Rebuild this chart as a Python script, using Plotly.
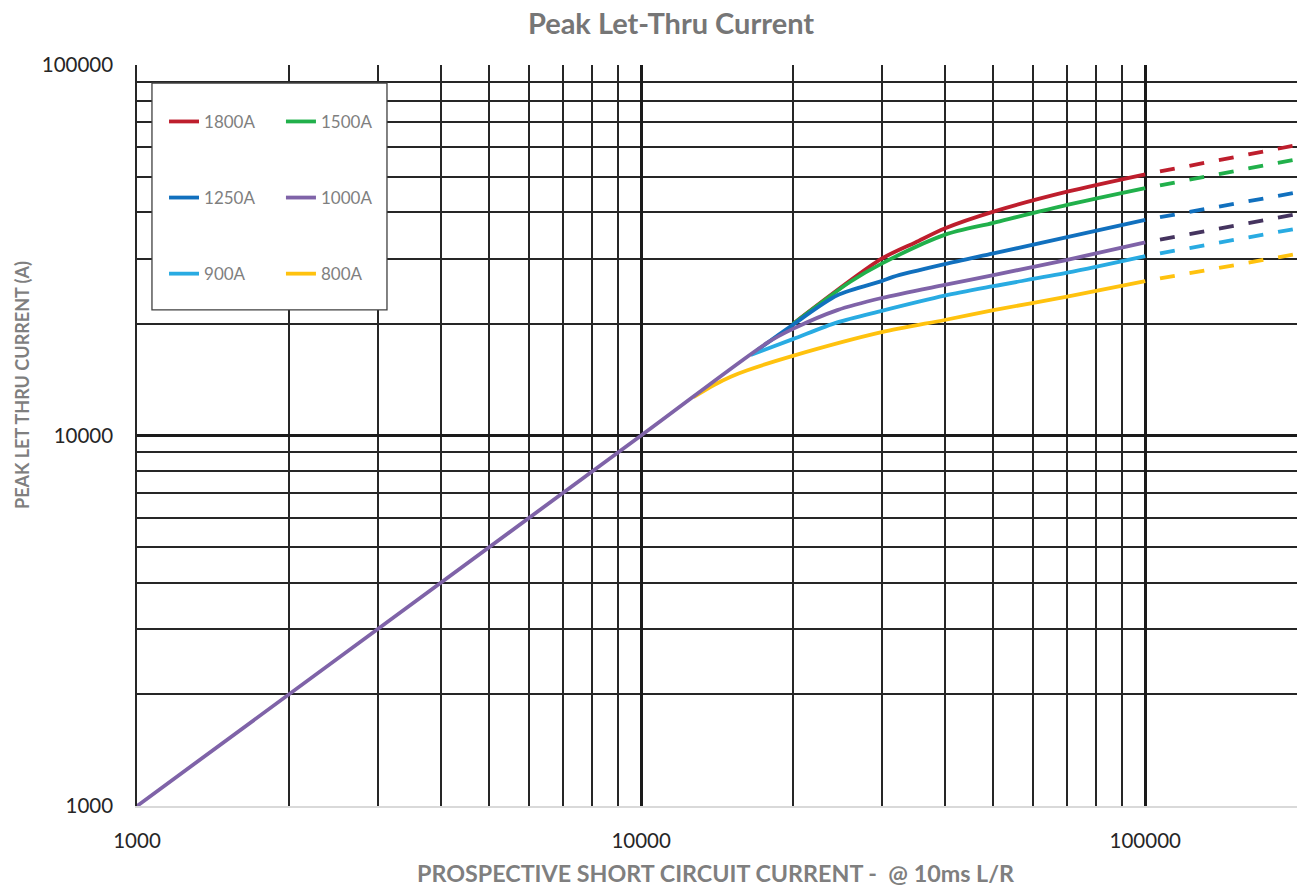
import math
import plotly.graph_objects as go

# Prospective short-circuit current (A) and peak let-through current (A) per fuse rating
x_1800 = [20000, 30000, 35000, 40000, 50000, 70000, 100000]
y_1800 = [20000, 30000, 33200, 36200, 40200, 45500, 50700]

x_1500 = [20000, 26000, 30000, 40000, 50000, 70000, 100000]
y_1500 = [20000, 26000, 29100, 34800, 37500, 41900, 46500]

x_1250 = [17000, 19800, 24500, 30000, 31600, 40000, 50000, 70000, 100000]
y_1250 = [17000, 19700, 23900, 26100, 26800, 29000, 31000, 34300, 38200]

x_1000 = [1000, 10000, 17800, 20000, 24500, 30000, 40000, 50000, 70000, 100000]
y_1000 = [1000, 10000, 17800, 19400, 21800, 23500, 25500, 27100, 29800, 33200]

x_900 = [16500, 20000, 24500, 30000, 40000, 50000, 70000, 100000]
y_900 = [16500, 18200, 20200, 21700, 23850, 25300, 27500, 30500]

x_800 = [12700, 13950, 15060, 16250, 20000, 30000, 40000, 50000, 70000, 100000]
y_800 = [12700, 13690, 14410, 15000, 16400, 19000, 20500, 21800, 23700, 26100]

# Extrapolated range beyond 100 kA
x_ext = [100000, 200000]
y_ext_1800 = [50700, 60800]
y_ext_1500 = [46500, 55700]
y_ext_1250 = [38200, 45300]
y_ext_1000 = [33200, 39600]
y_ext_900 = [30500, 36200]
y_ext_800 = [26100, 30900]

major_ticks = [1000, 10000, 100000]
x_minor = [2000, 3000, 4000, 5000, 6000, 7000, 8000, 9000,
           20000, 30000, 40000, 50000, 60000, 70000, 80000, 90000, 200000]
y_minor = [2000, 3000, 4000, 5000, 6000, 7000, 8000, 9000,
           20000, 30000, 40000, 50000, 60000, 70000, 80000, 90000]

FONT = "Lato"
GREY = "#7f7f7f"
LW = 3.8

series = [
    # name, x, y, ext, colour, ext colour, legend, rank
    ("1800A", x_1800, y_1800, y_ext_1800, "#BE1E2D", "#BE1E2D", "legend", 1),
    ("1500A", x_1500, y_1500, y_ext_1500, "#21B04B", "#21B04B", "legend2", 1),
    ("1250A", x_1250, y_1250, y_ext_1250, "#1170BE", "#1170BE", "legend", 2),
    ("900A", x_900, y_900, y_ext_900, "#29ABE2", "#29ABE2", "legend", 3),
    ("800A", x_800, y_800, y_ext_800, "#FFC20E", "#FFC20E", "legend2", 3),
    ("1000A", x_1000, y_1000, y_ext_1000, "#7F63A8", "#45345F", "legend2", 2),
]

fig = go.Figure()
for name, xs, ys, ext, col, ecol, leg, rank in series:
    fig.add_trace(go.Scatter(
        x=xs, y=ys, name=name, mode="lines",
        line=dict(color=col, width=LW, shape="spline", smoothing=0.8),
        legend=leg, legendgroup=name, legendrank=rank,
    ))
    fig.add_trace(go.Scatter(
        x=x_ext, y=ext, name=name, mode="lines", showlegend=False,
        line=dict(color=ecol, width=LW, dash="0px,15px,15px,0px"),
        legend=leg, legendgroup=name,
    ))

axis_common = dict(
    type="log",
    tickvals=major_ticks,
    ticktext=[str(v) for v in major_ticks],
    showgrid=True, gridcolor="#1a1a1a", gridwidth=3,
    tickfont=dict(family=FONT, size=20.5, color="#262626"),
    ticks="", zeroline=False,
)

fig.update_xaxes(
    **axis_common,
    range=[3, math.log10(200000)],
    minor=dict(tickvals=x_minor, showgrid=True, gridcolor="#262626", gridwidth=1.5, ticks=""),
    showline=True, linecolor="#d9d9d9", linewidth=2,
    ticklabelstandoff=15,
)
fig.update_yaxes(
    **axis_common,
    range=[3, 5],
    minor=dict(tickvals=y_minor, showgrid=True, gridcolor="#262626", gridwidth=1.5, ticks=""),
    showline=True, linecolor="#262626", linewidth=1.5,
    ticklabelstandoff=18,
)

legend_style = dict(
    bgcolor="rgba(0,0,0,0)", borderwidth=0,
    font=dict(family=FONT, size=17, color=GREY),
    tracegroupgap=51, itemwidth=30,
    xanchor="left", yanchor="top", orientation="v",
)

fig.update_layout(
    width=1303, height=889,
    margin=dict(l=137, r=6, t=65, b=83),
    paper_bgcolor="white", plot_bgcolor="white",
    title=dict(
        text="<b>Peak Let-Thru Current</b>",
        font=dict(family=FONT, size=29, color="#767676"),
        x=671 / 1303, xanchor="center", y=1 - 24 / 889, yanchor="middle",
    ),
    legend=dict(**legend_style, x=0.0233, y=0.9475),
    legend2=dict(**legend_style, x=0.1241, y=0.9475),
    shapes=[dict(
        type="rect", xref="paper", yref="paper",
        x0=0.0129, x1=0.2155, y0=0.6694, y1=0.9757,
        line=dict(color="#404040", width=1.3), fillcolor="white", layer="above",
    )],
    annotations=[
        dict(text="<b>PROSPECTIVE SHORT CIRCUIT CURRENT -  @ 10ms L/R</b>",
             xref="paper", yref="paper", x=(716 - 137) / 1160, y=-(873 - 806) / 741,
             xanchor="center", yanchor="middle", showarrow=False,
             font=dict(family=FONT, size=23.3, color=GREY)),
        dict(text="<b>PEAK LET THRU CURRENT (A)</b>",
             xref="paper", yref="paper", x=-(137 - 22) / 1160, y=(806 - 385) / 741,
             xanchor="center", yanchor="middle", showarrow=False, textangle=-90,
             font=dict(family=FONT, size=18, color=GREY)),
    ],
    showlegend=True,
)

fig.write_html("out.html")
